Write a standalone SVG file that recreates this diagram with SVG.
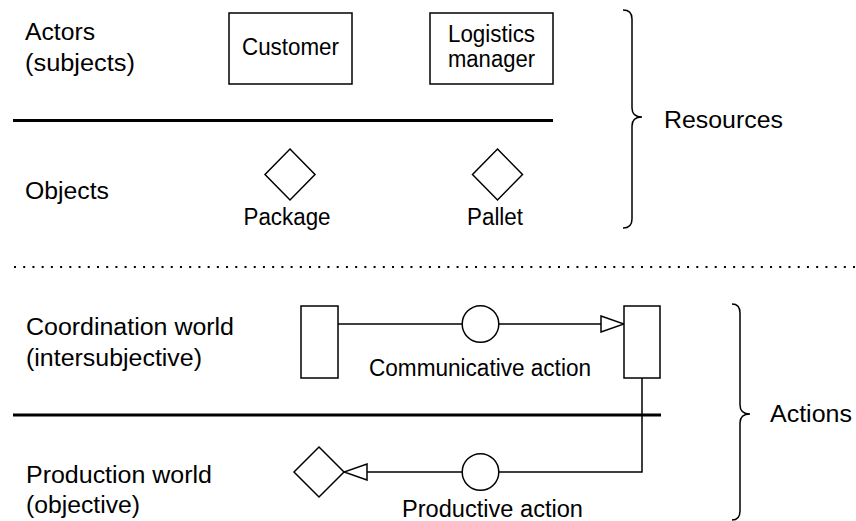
<svg xmlns="http://www.w3.org/2000/svg" width="856" height="521" viewBox="0 0 856 521">
<style>
text{font-family:"Liberation Sans",Arial,sans-serif;font-size:23px;fill:#000}
.c{text-anchor:middle}
.shape{fill:#fff;stroke:#000;stroke-width:1.5}
.sep{stroke:#000;stroke-width:3}
.line{fill:none;stroke:#000;stroke-width:1.5}
.brace{fill:none;stroke:#000;stroke-width:1.5}
</style>
<defs>
<marker id="tri" markerUnits="userSpaceOnUse" markerWidth="26" markerHeight="18" refX="24" refY="9" orient="auto">
<path d="M1,1 L24,9 L1,17 Z" fill="#fff" stroke="#000" stroke-width="1.5"/>
</marker>
</defs>
<rect width="856" height="521" fill="#fff"/>
<g id="labels">
<text x="25" y="40" textLength="70" lengthAdjust="spacingAndGlyphs">Actors</text>
<text x="25" y="71" textLength="110" lengthAdjust="spacingAndGlyphs">(subjects)</text>
<text x="25" y="199" textLength="84" lengthAdjust="spacingAndGlyphs">Objects</text>
<text x="26" y="335" textLength="208" lengthAdjust="spacingAndGlyphs">Coordination world</text>
<text x="26" y="366" textLength="176" lengthAdjust="spacingAndGlyphs">(intersubjective)</text>
<text x="26" y="483" textLength="186" lengthAdjust="spacingAndGlyphs">Production world</text>
<text x="26" y="513" textLength="114" lengthAdjust="spacingAndGlyphs">(objective)</text>
</g>
<g id="separators">
<line class="sep" x1="13" y1="120.5" x2="553" y2="120.5"/>
<line class="sep" x1="13" y1="415" x2="661" y2="415"/>
<line x1="14" y1="267" x2="856" y2="267" stroke="#000" stroke-width="2" stroke-dasharray="2 7.22"/>
</g>
<g id="braces">
<path class="brace" d="M623,10 Q632,10 632,19 L632,108 Q632,117 642,117 Q632,117 632,126 L632,219 Q632,228 623,228"/>
<text x="664" y="128" textLength="119" lengthAdjust="spacingAndGlyphs">Resources</text>
<path class="brace" d="M732,304 Q740,304 740,313 L740,405 Q740,414 750,414 Q740,414 740,423 L740,511 Q740,520 732,520"/>
<text x="770" y="422" textLength="82" lengthAdjust="spacingAndGlyphs">Actions</text>
</g>
<g id="connectors">
<line class="line" x1="338" y1="324" x2="624" y2="324" marker-end="url(#tri)"/>
<path class="line" d="M642,378 L642,472 L344,472" marker-end="url(#tri)"/>
</g>
<g id="customer">
<rect class="shape" x="229" y="13" width="123" height="71"/>
<text class="c" x="290.5" y="55" textLength="97" lengthAdjust="spacingAndGlyphs">Customer</text>
</g>
<g id="logistics-manager">
<rect class="shape" x="430" y="13" width="123" height="71"/>
<text class="c" x="491.5" y="42" textLength="87" lengthAdjust="spacingAndGlyphs">Logistics</text>
<text class="c" x="491.5" y="67" textLength="87" lengthAdjust="spacingAndGlyphs">manager</text>
</g>
<g id="package">
<polygon class="shape" points="290,149 315,174.5 290,200 265,174.5"/>
<text class="c" x="287" y="225" textLength="87" lengthAdjust="spacingAndGlyphs">Package</text>
</g>
<g id="pallet">
<polygon class="shape" points="497.5,149 522.5,174.5 497.5,200 472.5,174.5"/>
<text class="c" x="495" y="225" textLength="56" lengthAdjust="spacingAndGlyphs">Pallet</text>
</g>
<g id="coord-left">
<rect class="shape" x="301" y="306" width="37" height="72"/>
</g>
<g id="communicative-action">
<circle class="shape" cx="480.5" cy="324" r="18.3"/>
<text class="c" x="480" y="376" textLength="222" lengthAdjust="spacingAndGlyphs">Communicative action</text>
</g>
<g id="coord-right">
<rect class="shape" x="624" y="306" width="36" height="72"/>
</g>
<g id="productive-action">
<circle class="shape" cx="480.5" cy="472" r="18.3"/>
<text class="c" x="492.5" y="517" textLength="181" lengthAdjust="spacingAndGlyphs">Productive action</text>
</g>
<g id="product">
<polygon class="shape" points="319,447 344,472 319,497 294,472"/>
</g>
</svg>
